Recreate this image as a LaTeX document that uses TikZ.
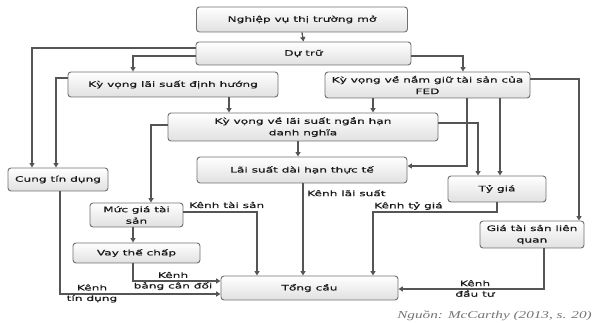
\documentclass[tikz,border=0pt]{standalone}
\usepackage{fontspec}
\newfontfamily\bxfont[FakeStretch=1.62,FakeBold=0.6]{DejaVu Sans}
\newfontfamily\srcfont[FakeStretch=1.45]{Liberation Serif}
\usetikzlibrary{arrows.meta,shadows}
\definecolor{linec}{HTML}{555555}
\definecolor{boxc}{HTML}{707070}
\tikzset{
  bx/.style={draw=boxc, line width=0.9pt, rounded corners=3pt, top color=white, bottom color=black!12,
    align=center, inner sep=1pt, font=\bxfont\fontsize{7.5}{11.5}\selectfont, text=black!90},
  arr/.style={draw=linec, line width=1.3pt, -{Triangle[length=4.5pt,width=5pt]}},
  lbl/.style={font=\bxfont\fontsize{7.5}{10.5}\selectfont, text=black!90, inner sep=0pt, align=center}
}
\begin{document}
\begin{tikzpicture}[x=1pt,y=-1pt]
\useasboundingbox (0,0) rectangle (595,323);
% boxes
\node[bx, minimum width=211pt, minimum height=25pt] (b1) at (302,19.5) {Nghiệp vụ thị trường mở};
\node[bx, minimum width=215pt, minimum height=23pt] (b2) at (303.5,53.5) {Dự trữ};
\node[bx, minimum width=210pt, minimum height=25pt] (b3) at (173,84.5) {Kỳ vọng lãi suất định hướng};
\node[bx, minimum width=205pt, minimum height=26pt] (b4) at (427.5,85) {Kỳ vọng về nắm giữ tài sản của\\FED};
\node[bx, minimum width=270pt, minimum height=28pt] (b5) at (303,127) {Kỳ vọng về lãi suất ngắn hạn\\danh nghĩa};
\node[bx, minimum width=210pt, minimum height=26pt] (b6) at (302,170) {Lãi suất dài hạn thực tế};
\node[bx, minimum width=100pt, minimum height=23pt] (b7) at (58,179.5) {Cung tín dụng};
\node[bx, minimum width=98pt, minimum height=26pt] (b8) at (497,189) {Tỷ giá};
\node[bx, minimum width=93pt, minimum height=24pt] (b9) at (136.5,215) {Mức giá tài\\sản};
\node[bx, minimum width=127pt, minimum height=20pt] (b10) at (136.5,253) {Vay thế chấp};
\node[bx, minimum width=177pt, minimum height=24pt] (b11) at (309.5,288) {Tổng cầu};
\node[bx, minimum width=104pt, minimum height=27pt] (b12) at (532,234.5) {Giá tài sản liên\\quan};
% connectors
\draw[arr] (b1.south) -- (b2.north);
\draw[arr] (b2.west |- 0,48) -| (32,0 |- b7.north);
\draw[arr] (b2.west |- 0,56) -| (133,0 |- b3.north);
\draw[arr] (b3.west |- 0,78) -| (56,0 |- b7.north);
\draw[arr] (229,0 |- b3.south) -- (229,0 |- b5.north);
\draw[arr] (b2.east |- 0,56) -| (463,0 |- b4.north);
\draw[arr] (b4.east |- 0,79) -| (579,0 |- b12.north);
\draw[arr] (373,0 |- b4.south) -- (373,0 |- b5.north);
\draw[arr] (467,0 |- b4.south) |- (b6.east |- 0,166);
\draw[arr] (500,0 |- b4.south) -- (500,0 |- b8.north);
\draw[arr] (b5.east |- 0,123) -| (478,0 |- b8.north);
\draw[arr] (298,0 |- b5.south) -- (298,0 |- b6.north);
\draw[arr] (b5.west |- 0,125) -| (151,0 |- b9.north);
\draw[arr] (133,0 |- b9.south) -- (133,0 |- b10.north);
\draw[arr] (b9.east |- 0,212) -| (257,0 |- b11.north);
\draw[arr] (133,0 |- b10.south) |- (b11.west |- 0,281);
\draw[arr] (60,0 |- b7.south) |- (b11.west |- 0,294);
\draw[arr] (303,0 |- b6.south) -- (303,0 |- b11.north);
\coordinate (tg) at (373,212);
\draw[arr] (b8.south) |- (tg) -- (tg |- b11.north);
\draw[arr] (544,0 |- b12.south) |- (b11.east |- 0,289);
% labels
\node[lbl, anchor=west] (l1) at (307,193) {Kênh lãi suất};
\node[lbl, anchor=west] (l2) at (189,205) {Kênh tài sản};
\node[lbl, anchor=west] (l3) at (374,206) {Kênh tỷ giá};
\node[lbl] (l4) at (173,281) {Kênh\\bảng cân đối};
\node[lbl] (l5) at (92,293.5) {Kênh\\tín dụng};
\node[lbl] (l6) at (475,288.5) {Kênh\\đầu tư};
\node[anchor=east, inner sep=0pt, font=\srcfont\itshape\fontsize{10.5}{12}\selectfont, text=black!55] (src) at (592,316) {Nguồn: McCarthy (2013, s. 20)};
\end{tikzpicture}
\end{document}
